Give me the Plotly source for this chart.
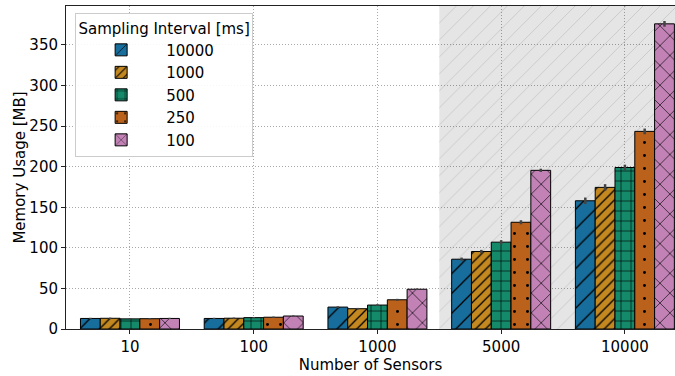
import plotly.graph_objects as go

categories = ["10", "100", "1000", "5000", "10000"]
intervals = ["10000", "1000", "500", "250", "100"]

mem_10000 = [13.0, 13.0, 27.0, 86.0, 158.0]
mem_1000 = [13.2, 13.3, 25.0, 95.5, 174.5]
mem_500 = [12.5, 14.0, 29.5, 107.0, 199.0]
mem_250 = [12.7, 14.5, 36.0, 131.5, 243.5]
mem_100 = [13.0, 16.0, 49.0, 195.5, 376.0]

err_10000 = [0.8, 0.8, 1.0, 2.0, 4.0]
err_1000 = [0.8, 0.8, 1.0, 2.0, 4.0]
err_500 = [0.8, 0.8, 1.0, 2.5, 3.5]
err_250 = [0.8, 0.8, 1.2, 2.5, 3.5]
err_100 = [0.8, 0.8, 1.0, 2.0, 3.5]

series = [mem_10000, mem_1000, mem_500, mem_250, mem_100]
errors = [err_10000, err_1000, err_500, err_250, err_100]
colors = ["#176d9c", "#c38820", "#158a6a", "#ba611b", "#c282b6"]
patterns = [("/", 14, 0.09), ("/", 7, 0.18), ("+", 10, 0.12), (".", 13, 0.04), ("x", 14, 0.09)]

bar_w = 0.16
offsets = [(-2 + k) * bar_w for k in range(5)]
ymax = 398

fig = go.Figure()

# shaded (hatched) region behind the large-sensor groups
fig.add_trace(go.Bar(
    x=[3.75], y=[ymax * 1.2], width=[2.5], base=[0],
    marker=dict(color="rgba(0,0,0,0.1)", line=dict(width=0),
                pattern=dict(shape="/", size=12, solidity=0.06,
                             fgcolor="rgba(170,170,170,0.6)", bgcolor="rgba(0,0,0,0.1)",
                             fillmode="replace")),
    showlegend=False, hoverinfo="skip",
))

for k, (name, vals, errs, col, pat) in enumerate(zip(intervals, series, errors, colors, patterns)):
    xs = [i + offsets[k] for i in range(len(categories))]
    fig.add_trace(go.Bar(
        name=name, x=xs, y=vals, width=bar_w,
        marker=dict(color=col, line=dict(color="black", width=1),
                    pattern=dict(shape=pat[0], size=pat[1], solidity=pat[2],
                                 fgcolor="black", fgopacity=1, fillmode="overlay")),
        error_y=dict(type="data", array=errs, color="#444444", thickness=2.5, width=0),
    ))

font_family = "DejaVu Sans"
grid_dash = "1px,2px"
fig.update_layout(
    width=675, height=376,
    margin=dict(l=66, r=0, t=6, b=47),
    barmode="overlay",
    plot_bgcolor="white", paper_bgcolor="white",
    font=dict(family=font_family, size=15, color="black"),
    xaxis=dict(
        range=[-0.517, 4.405],
        tickmode="array", tickvals=list(range(len(categories))), ticktext=categories,
        tickfont=dict(size=15),
        title=dict(text="Number of Sensors", font=dict(size=15), standoff=3),
        showgrid=True, gridcolor="#a8a8a8", gridwidth=1, griddash=grid_dash,
        showline=True, linecolor="#222222", linewidth=1, mirror=True,
        ticks="outside", ticklen=4, tickcolor="#222222",
        zeroline=False,
    ),
    yaxis=dict(
        range=[0, ymax],
        tickmode="array", tickvals=[0, 50, 100, 150, 200, 250, 300, 350],
        tickfont=dict(size=15),
        title=dict(text="Memory Usage [MB]", font=dict(size=15), standoff=0),
        showgrid=True, gridcolor="#a8a8a8", gridwidth=1, griddash=grid_dash,
        showline=True, linecolor="#222222", linewidth=1,
        ticks="outside", ticklen=4, tickcolor="#222222",
        zeroline=False,
    ),
    legend=dict(
        x=0.015, y=0.978, xanchor="left", yanchor="top",
        bgcolor="rgba(255,255,255,0.9)", bordercolor="#cccccc", borderwidth=1,
        font=dict(size=15), title=dict(text="Sampling Interval [ms]", font=dict(size=15), side="top center"),
        tracegroupgap=0, itemwidth=80,
    ),
)

fig.write_html("out.html")
